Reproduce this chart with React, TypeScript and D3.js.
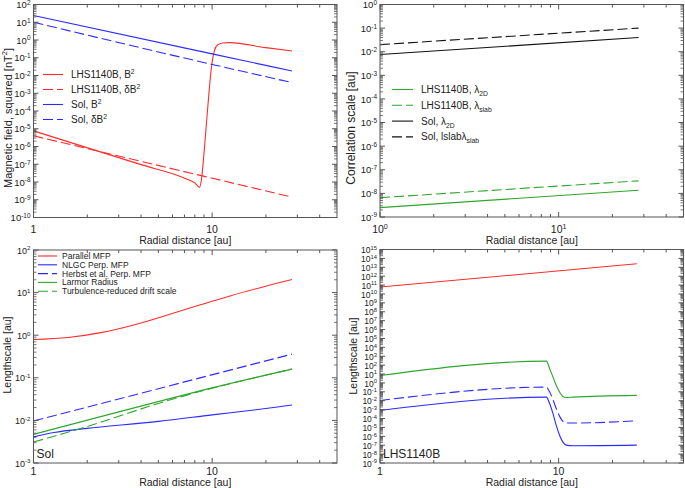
import React from 'react';
import * as d3 from 'd3';

// ---------- Panel A: magnetic field squared ----------
const solR = [1, 10, 28];
const solB2 = [24, 0.165, 0.018];
const solDB2 = [10, 0.042, 0.004];
const lhsB2R = [1, 4, 7.2, 8.0, 8.51, 8.7, 9.07, 9.46, 9.87, 10.3, 10.75, 11.5, 12.5, 20, 28];
const lhsB2 = [7.6e-6, 9.5e-8, 1.48e-8, 8.9e-9, 5.0e-9, 1.26e-8, 1.0e-6, 1.78e-4, 0.02, 0.25, 0.54, 0.68, 0.71, 0.37, 0.24];
const lhsDB2R = [1, 28];
const lhsDB2 = [4e-6, 1.4e-9];

// ---------- Panel B: correlation scales ----------
const corrR = [1, 28];
const sol2D = [0.0076, 0.04];
const solSlab = [0.02, 0.1];
const lhs2D = [2.5e-9, 1.35e-8];
const lhsSlab = [6.6e-9, 3.4e-8];

// ---------- Panel C: Sol lengthscales ----------
const parR = [1, 1.56, 2.38, 3.64, 5.56, 8.5, 13, 19.9, 28];
const parMFP = [0.79, 0.885, 1.15, 1.74, 2.95, 5.1, 8.7, 14.1, 20.4];
const herbstR = [1, 28];
const herbst = [0.0097, 0.36];
const larmorR = [1, 10, 28];
const larmor = [0.0047, 0.058, 0.16];
const driftR = [1, 2, 3, 5, 10, 28];
const drift = [0.0031, 0.0072, 0.0125, 0.025, 0.057, 0.16];
const nlgcR = [1, 1.3, 2, 5, 10, 20, 28];
const nlgc = [0.0041, 0.0052, 0.0065, 0.0095, 0.0135, 0.019, 0.023];

// ---------- Panel D: LHS1140B lengthscales ----------
const lhsParR = [1, 27.4];
const lhsPar = [6e10, 2.5e13];
const lhsR = [1, 8.54, 8.91, 9.3, 9.7, 10.13, 10.57, 11.03, 12.0, 27.4];
const lhsLarmor = [6.9, 282, 38.9, 4.57, 0.525, 0.0933, 0.0302, 0.0234, 0.0257, 0.0398];
const lhsHerbst = [0.0107, 0.339, 0.0933, 0.0129, 1.26e-3, 1.74e-4, 4.68e-5, 3.09e-5, 3.09e-5, 5.6e-5];
const lhsNlgc = [8.1e-4, 0.0257, 4.57e-3, 3.47e-4, 1.66e-5, 1.26e-6, 2.24e-7, 1.02e-7, 8.7e-8, 1.02e-7];

const xMajor = [1, 10];
const xMinor = [2, 3, 4, 5, 6, 7, 8, 9, 20, 30, 40];

const RED = '#ff2b2b';
const BLUE = '#2b2bff';
const GREEN = '#2fa62f';
const BLACK = '#111';
const DASH = '10,4';
const FONT = 'Liberation Sans, Arial, Helvetica, sans-serif';

type Part = [string, string?];

function Rich({ x, y, parts, size, anchor = 'start', fill = '#222', supRaise }: any) {
  let shift = 0;
  const spans = (parts as Part[]).map(([t, k], i) => {
    const target = k === 'sup' ? -(supRaise ?? size * 0.42) : k === 'sub' ? size * 0.3 : 0;
    const dy = target - shift;
    shift = target;
    return (
      <tspan key={i} dy={dy} fontSize={k ? size * 0.68 : size}>
        {t}
      </tspan>
    );
  });
  return (
    <text x={x} y={y} fontSize={size} textAnchor={anchor} fill={fill}>
      {spans}
    </text>
  );
}

interface Series {
  r: number[];
  v: number[];
  color: string;
  dash?: string;
  smooth?: boolean;
}

function Panel(props: any) {
  const { box, yDom, xPow, series, legend, legendBox, yTitle, yTitleY, yTitleX, yTitleSize, note, yLabelSize, xLabDy, xTitleDy } = props;
  const [L, R, T, B] = box;
  const x = d3.scaleLog().domain([1, 50]).range([L, R]);
  const y = d3.scaleLog().domain(yDom).range([B, T]);
  const lo = Math.round(Math.log10(yDom[0]));
  const hi = Math.round(Math.log10(yDom[1]));
  const yMaj: number[] = [];
  const yMin: number[] = [];
  for (let d = lo; d <= hi; d++) {
    yMaj.push(d);
    if (d < hi) for (let k = 2; k <= 9; k++) yMin.push(k * Math.pow(10, d));
  }
  const line = (s: Series) =>
    d3
      .line<number>()
      .x((_, i) => x(s.r[i]))
      .y((v) => y(v))
      .curve(s.smooth ? d3.curveCatmullRom.alpha(0.5) : d3.curveMonotoneX)(s.v) as string;
  const frame = '#555';
  const ticks: any[] = [];
  xMajor.forEach((t, i) => {
    ticks.push(<line key={'xm' + i} x1={x(t)} x2={x(t)} y1={B} y2={B - 5} stroke={frame} />);
    ticks.push(<line key={'xmt' + i} x1={x(t)} x2={x(t)} y1={T} y2={T + 5} stroke={frame} />);
  });
  xMinor.forEach((t, i) => {
    ticks.push(<line key={'xn' + i} x1={x(t)} x2={x(t)} y1={B} y2={B - 3} stroke={frame} />);
    ticks.push(<line key={'xnt' + i} x1={x(t)} x2={x(t)} y1={T} y2={T + 3} stroke={frame} />);
  });
  yMaj.forEach((d, i) => {
    const yy = y(Math.pow(10, d));
    ticks.push(<line key={'ym' + i} x1={L} x2={L + 5} y1={yy} y2={yy} stroke={frame} />);
    ticks.push(<line key={'ymr' + i} x1={R} x2={R - 5} y1={yy} y2={yy} stroke={frame} />);
  });
  yMin.forEach((v, i) => {
    const yy = y(v);
    ticks.push(<line key={'yn' + i} x1={L} x2={L + 3} y1={yy} y2={yy} stroke={frame} strokeWidth={0.8} />);
    ticks.push(<line key={'ynr' + i} x1={R} x2={R - 3} y1={yy} y2={yy} stroke={frame} strokeWidth={0.8} />);
  });
  const cx = (L + R) / 2;
  return (
    <g>
      <clipPath id={'clip' + Math.round(L) + Math.round(T)}>
        <rect x={L} y={T} width={R - L} height={B - T} />
      </clipPath>
      <g clipPath={`url(#clip${Math.round(L)}${Math.round(T)})`}>
        {(series as Series[]).map((s, i) => (
          <path key={i} d={line(s)} fill="none" stroke={s.color} strokeWidth={1.1} strokeDasharray={s.dash} />
        ))}
      </g>
      {ticks}
      <rect x={L} y={T} width={R - L} height={B - T} fill="none" stroke={frame} strokeWidth={1} />
      {yMaj.map((d) => (
        <Rich
          key={'yl' + d}
          x={L - 3}
          y={y(Math.pow(10, d)) + 3.6}
          size={yLabelSize}
          supRaise={3.2}
          anchor="end"
          parts={[['10'], [String(d), 'sup']]}
        />
      ))}
      {xMajor.map((t, i) =>
        xPow ? (
          <Rich key={'xl' + i} x={x(t)} y={B + xLabDy} size={10.5} supRaise={3.6} anchor="middle" parts={[['10'], [String(i), 'sup']]} />
        ) : (
          <text key={'xl' + i} x={x(t)} y={B + xLabDy} fontSize={10.5} textAnchor="middle" fill="#222">
            {t}
          </text>
        )
      )}
      <text x={cx} y={B + xTitleDy} fontSize={10.5} textAnchor="middle" fill="#222">
        Radial distance [au]
      </text>
      <g transform={`translate(${yTitleX},${yTitleY}) rotate(-90)`}>
        <Rich x={0} y={0} size={yTitleSize} anchor="middle" parts={yTitle} />
      </g>
      {legend &&
        legend.map((it: any, i: number) => {
          const yy = legendBox.y0 + i * legendBox.dy;
          return (
            <g key={'lg' + i}>
              <line x1={legendBox.x0} x2={legendBox.x1} y1={yy} y2={yy} stroke={it.color} strokeWidth={1.1} strokeDasharray={it.dash} />
              <Rich x={legendBox.tx} y={yy + legendBox.size * 0.35} size={legendBox.size} parts={it.parts} />
            </g>
          );
        })}
      {note && (
        <text x={L + 3} y={B - 5} fontSize={12} fill="#222">
          {note}
        </text>
      )}
    </g>
  );
}

export default function App() {
  return (
    <svg width={685} height={488} style={{ position: 'absolute', left: 0, top: 0, background: '#fff' }} fontFamily={FONT}>
      <rect x={0} y={0} width={685} height={488} fill="#fff" />
      <Panel
        box={[33.5, 337, 4.5, 217.5]}
        yDom={[1e-10, 1e2]}
        xPow={false}
        xLabDy={15.5}
        xTitleDy={26.5}
        yLabelSize={9.5}
        yTitle={[['Magnetic field, squared [nT'], ['2', 'sup'], [']']]}
        yTitleX={11.5}
        yTitleY={118}
        yTitleSize={11}
        series={[
          { r: lhsB2R, v: lhsB2, color: RED },
          { r: lhsDB2R, v: lhsDB2, color: RED, dash: DASH },
          { r: solR, v: solB2, color: BLUE },
          { r: solR, v: solDB2, color: BLUE, dash: DASH },
        ]}
        legendBox={{ x0: 43, x1: 63, tx: 71, y0: 74.5, dy: 15, size: 10 }}
        legend={[
          { color: RED, parts: [['LHS1140B, B'], ['2', 'sup']] },
          { color: RED, dash: DASH, parts: [['LHS1140B, δB'], ['2', 'sup']] },
          { color: BLUE, parts: [['Sol, B'], ['2', 'sup']] },
          { color: BLUE, dash: DASH, parts: [['Sol, δB'], ['2', 'sup']] },
        ]}
      />
      <Panel
        box={[380, 683.5, 4.5, 217]}
        yDom={[1e-9, 1]}
        xPow={true}
        xLabDy={16}
        xTitleDy={27}
        yLabelSize={9.5}
        yTitle={[['Correlation scale [au]']]}
        yTitleX={355}
        yTitleY={128}
        yTitleSize={12}
        series={[
          { r: corrR, v: lhs2D, color: GREEN },
          { r: corrR, v: lhsSlab, color: GREEN, dash: DASH },
          { r: corrR, v: sol2D, color: BLACK },
          { r: corrR, v: solSlab, color: BLACK, dash: DASH },
        ]}
        legendBox={{ x0: 392, x1: 413, tx: 421, y0: 89.5, dy: 15.8, size: 10 }}
        legend={[
          { color: GREEN, parts: [['LHS1140B, λ'], ['2D', 'sub']] },
          { color: GREEN, dash: DASH, parts: [['LHS1140B, λ'], ['slab', 'sub']] },
          { color: BLACK, parts: [['Sol, λ'], ['2D', 'sub']] },
          { color: BLACK, dash: DASH, parts: [['Sol, lslabλ'], ['slab', 'sub']] },
        ]}
      />
      <Panel
        box={[33.5, 337, 250, 463]}
        yDom={[1e-3, 1e2]}
        xPow={false}
        xLabDy={11.5}
        xTitleDy={23}
        yLabelSize={9}
        yTitle={[['Lengthscale [au]']]}
        yTitleX={11}
        yTitleY={355}
        yTitleSize={10.5}
        note="Sol"
        series={[
          { r: parR, v: parMFP, color: RED, smooth: true },
          { r: nlgcR, v: nlgc, color: BLUE, smooth: true },
          { r: herbstR, v: herbst, color: BLUE, dash: DASH },
          { r: larmorR, v: larmor, color: GREEN, smooth: true },
          { r: driftR, v: drift, color: GREEN, dash: DASH, smooth: true },
        ]}
        legendBox={{ x0: 38, x1: 57, tx: 62, y0: 256, dy: 8.8, size: 8.5 }}
        legend={[
          { color: RED, parts: [['Parallel MFP']] },
          { color: BLUE, parts: [['NLGC Perp. MFP']] },
          { color: BLUE, dash: DASH, parts: [['Herbst et al. Perp. MFP']] },
          { color: GREEN, parts: [['Larmor Radius']] },
          { color: GREEN, dash: DASH, parts: [['Turbulence-reduced drift scale']] },
        ]}
      />
      <Panel
        box={[380, 683.5, 249.5, 463]}
        yDom={[1e-9, 1e15]}
        xPow={false}
        xLabDy={11.5}
        xTitleDy={23}
        yLabelSize={8.5}
        yTitle={[['Lengthscale [au]']]}
        yTitleX={357}
        yTitleY={356}
        yTitleSize={10.5}
        note="LHS1140B"
        series={[
          { r: lhsParR, v: lhsPar, color: RED },
          { r: lhsR, v: lhsNlgc, color: BLUE },
          { r: lhsR, v: lhsHerbst, color: BLUE, dash: DASH },
          { r: lhsR, v: lhsLarmor, color: GREEN },
        ]}
      />
    </svg>
  );
}
